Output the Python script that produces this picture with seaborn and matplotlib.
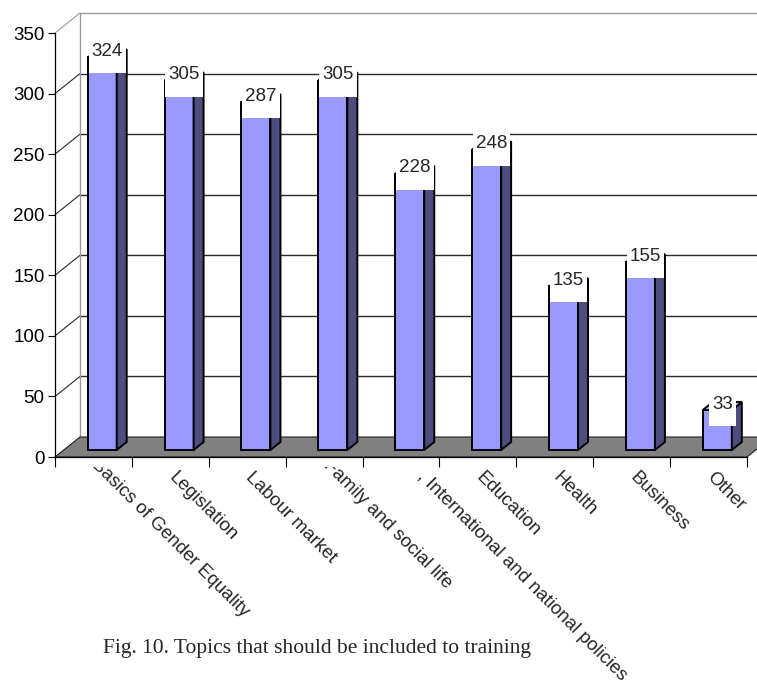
import numpy as np
import pandas as pd
import seaborn as sns
import matplotlib
matplotlib.use("Agg")
import matplotlib.pyplot as plt
from matplotlib.patches import Polygon, Rectangle
from matplotlib.transforms import (Affine2D, ScaledTranslation, Bbox,
                                   blended_transform_factory)

# ---- data -------------------------------------------------------------
topics = ["Basics of Gender Equality", "Legislation", "Labour market",
          "Family and social life", ", International and national policies",
          "Education", "Health", "Business", "Other"]
responses = [324, 305, 287, 305, 228, 248, 135, 155, 33]
value_ticks = [0, 50, 100, 150, 200, 250, 300, 350]
caption = "Fig. 10. Topics that should be included to training"

# ---- figure / style ---------------------------------------------------
W, H, DPI = 757, 684, 100
sns.set_style("white")
plt.rcParams["font.family"] = ["Liberation Sans", "DejaVu Sans"]
FS = 13.5

fig = plt.figure(figsize=(W / DPI, H / DPI), dpi=DPI)
fig.patch.set_facecolor("white")
# front plane of the 3-D box: x 55..747 px, y 33..457 px (from top)
ax = fig.add_axes([55 / W, (H - 457) / H, 692 / W, 424 / H])
ax.set_facecolor("none")

n = len(topics)
XMIN, XMAX, YMAX = -0.5, n - 0.5, 350
px_x = 692 / n          # pixels per category
px_y = 424 / YMAX       # pixels per value unit
DX, DY = 25 / px_x, 20 / px_y   # depth of the box in data units
F1, F2 = 0.35, 0.75             # bar front / back depth fractions
BAR_W = 29 / px_x

df = pd.DataFrame({"topic": topics, "count": responses})

# ---- walls and floor --------------------------------------------------
wall_kw = dict(clip_on=False, zorder=0.5)
ax.add_patch(Polygon([(XMIN + DX, DY), (XMAX + DX, DY), (XMAX + DX, YMAX + DY),
                      (XMIN + DX, YMAX + DY)], facecolor="white",
                     edgecolor="none", **wall_kw))
for v in value_ticks[1:]:
    col = "#999999" if v == YMAX else "#2a2a2a"
    ax.plot([XMIN + DX, XMAX + DX + 1], [v + DY, v + DY], color=col, lw=1.0,
            solid_capstyle="butt", **wall_kw)
    ax.plot([XMIN, XMIN + DX], [v, v + DY], color=col, lw=0.8, **wall_kw)
ax.plot([XMIN + DX, XMIN + DX], [DY, YMAX + DY], color="#999999", lw=1.0,
        **wall_kw)

ax.add_patch(Polygon([(XMIN, 0), (XMAX, 0), (XMAX + DX, DY), (XMIN + DX, DY)],
                     facecolor="#808080", edgecolor="#202020", lw=0.8,
                     clip_on=False, zorder=1))

# ---- bars -------------------------------------------------------------
sns.barplot(data=df, x="topic", y="count", color="#9999FF", saturation=1,
            width=BAR_W, edgecolor="black", linewidth=1.4, ax=ax, zorder=3)
bars = list(ax.patches)[-n:]
shift = Affine2D().translate(F1 * DX, F1 * DY) + ax.transData
for p in bars:
    p.set_transform(shift)
    p.set_clip_on(False)
    xl = p.get_x()
    xr = xl + p.get_width()
    h = p.get_height()
    side = [(xr + F1 * DX, F1 * DY), (xr + F2 * DX, F2 * DY),
            (xr + F2 * DX, h + F2 * DY), (xr + F1 * DX, h + F1 * DY)]
    top = [(xl + F1 * DX, h + F1 * DY), (xr + F1 * DX, h + F1 * DY),
           (xr + F2 * DX, h + F2 * DY), (xl + F2 * DX, h + F2 * DY)]
    ax.add_patch(Polygon(side, facecolor="#4D4D80", edgecolor="black",
                         lw=1.4, joinstyle="miter", clip_on=False, zorder=3))
    ax.add_patch(Polygon(top, facecolor="#B8B8FF", edgecolor="black",
                         lw=1.4, joinstyle="miter", clip_on=False, zorder=3))

# ---- axes -------------------------------------------------------------
ax.set_xlim(XMIN, XMAX)
ax.set_ylim(0, YMAX)
ax.set_xlabel("")
ax.set_ylabel("")
for s in ["top", "right"]:
    ax.spines[s].set_visible(False)
for s in ["left", "bottom"]:
    ax.spines[s].set_visible(True)
    ax.spines[s].set_color("black")
    ax.spines[s].set_linewidth(0.9)
    ax.spines[s].set_zorder(2)

ax.set_yticks(value_ticks)
ax.set_yticklabels([str(v) for v in value_ticks], fontsize=FS)
ax.tick_params(axis="y", direction="out", length=5, width=0.8, pad=2.5,
               colors="black", left=True)
ax.set_xticks(np.arange(n))
ax.set_xticklabels([])
ax.tick_params(axis="x", which="major", length=0)
ax.set_xticks(np.arange(XMIN, XMAX + 0.01, 1), minor=True)
ax.tick_params(axis="x", which="minor", direction="out", length=7.2,
               width=0.8, colors="black", bottom=True)

# rotated category labels, trimmed just below the floor
label_shift_px = [(0, 13), (0, 0), (0, 0), (1, 12), (18, 1),
                  (0, 0), (0, 0), (0, 0), (0, 0)]
clip = Bbox([[0, 0], [W, H - 467]])
xform = blended_transform_factory(ax.transData, ax.transAxes)
for i, (name, (sx, sy)) in enumerate(zip(topics, label_shift_px)):
    t = ax.text(i, 0, name, fontsize=FS, rotation=-45,
                rotation_mode="anchor", ha="left", va="top",
                transform=xform + ScaledTranslation((sx + 7) / DPI,
                                                    (sy - 12) / DPI,
                                                    fig.dpi_scale_trans))
    t.set_clip_on(True)
    t.set_clip_box(Bbox(clip.get_points()))

# ---- value labels with white backing -----------------------------------
value_texts = []
for p, v in zip(bars, responses):
    xl = p.get_x()
    xr = xl + p.get_width()
    cx = (xl + F1 * DX + xr + F2 * DX) / 2
    cy = v + F1 * DY + 6 / px_y
    value_texts.append(ax.text(cx, cy, f"{v}", fontsize=FS, ha="center",
                               va="center", zorder=6, clip_on=False))

fig.canvas.draw()
renderer = fig.canvas.get_renderer()
inv = ax.transData.inverted()
for t in value_texts:
    bb = t.get_window_extent(renderer)
    cy = (bb.y0 + bb.y1) / 2
    (x0, y0) = inv.transform((bb.x0 - 3, cy - 22))
    (x1, y1) = inv.transform((bb.x1 + 3, cy + 11))
    ax.add_patch(Rectangle((x0, y0), x1 - x0, y1 - y0, facecolor="white",
                           edgecolor="none", zorder=5, clip_on=False))

fig.text(103 / W, 1 - 649 / H, caption, fontsize=15.5, ha="left",
         va="center", family=["Liberation Serif", "DejaVu Serif"])

fig.savefig("out.png", dpi=DPI, facecolor="white")
